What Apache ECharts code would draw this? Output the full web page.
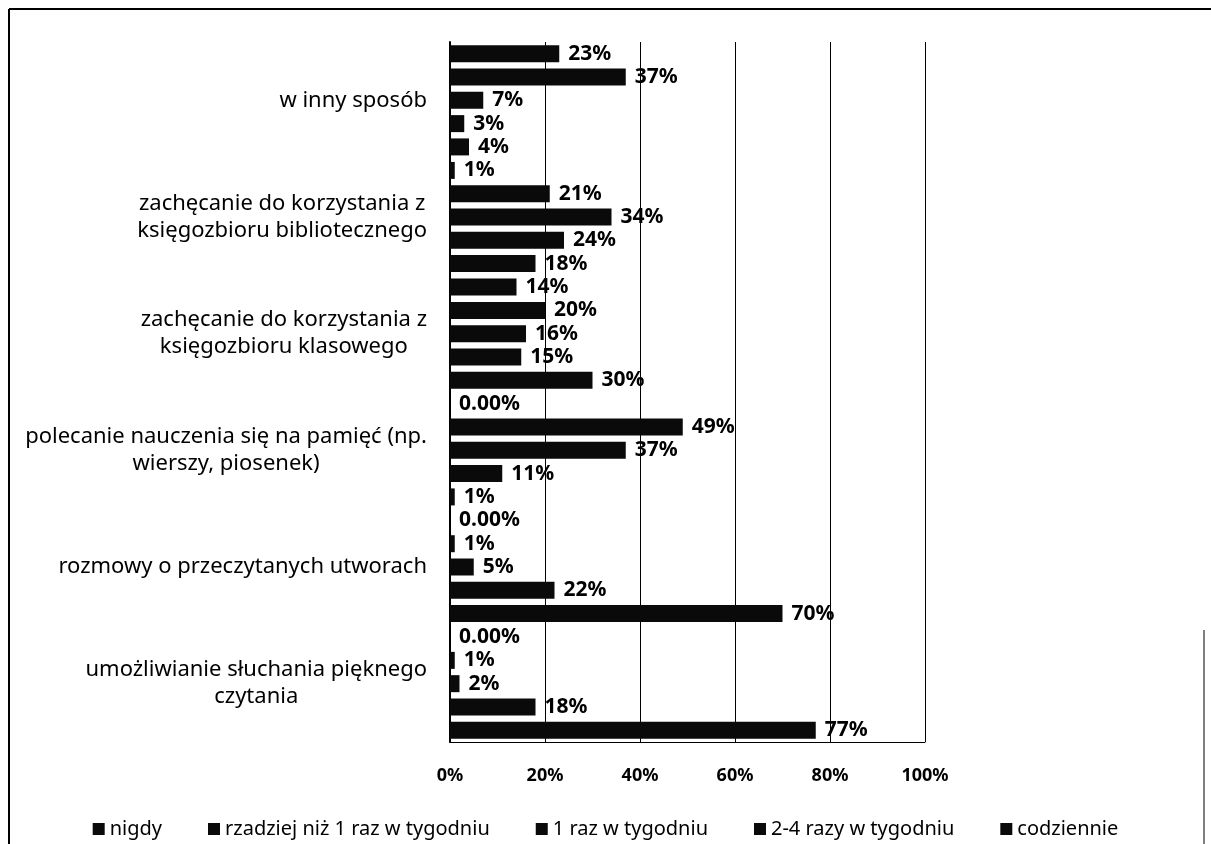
<!DOCTYPE html>
<html>
<head>
<meta charset="utf-8">
<script src="https://cdn.jsdelivr.net/npm/echarts@6/dist/echarts.min.js"></script>
<style>
  html, body { margin: 0; padding: 0; background: #fff; }
  #chart { width: 1211px; height: 844px; }
</style>
</head>
<body>
<div id="chart"></div>
<script>
// categories, top to bottom
const categories = [
  'w inny sposób',
  'zachęcanie do korzystania z\nksięgozbioru bibliotecznego',
  'zachęcanie do korzystania z\nksięgozbioru klasowego',
  'polecanie nauczenia się na pamięć (np.\nwierszy, piosenek)',
  'rozmowy o przeczytanych utworach',
  'umożliwianie słuchania pięknego\nczytania'
];
const seriesNames = [
  'nigdy',
  'rzadziej niż 1 raz w tygodniu',
  '1 raz w tygodniu',
  '2-4 razy w tygodniu',
  'codziennie'
];
// values in %
const nigdy = [23, 1, 14, 0, 0, 0];
const rzadziej = [37, 21, 20, 49, 1, 1];
const razWTygodniu = [7, 34, 16, 37, 5, 2];
const dwaCztery = [3, 24, 15, 11, 22, 18];
const codziennie = [4, 18, 30, 1, 70, 77];
const xTicks = [0, 20, 40, 60, 80, 100];

const font = "'Noto Sans', sans-serif";
const chart = echarts.init(document.getElementById('chart'));

function makeSeries(name, data) {
  return {
    name: name,
    type: 'bar',
    data: data,
    barWidth: 17,
    barGap: '37%',
    itemStyle: { color: '#0a0a0a' },
    label: {
      show: true,
      position: 'right',
      distance: 9,
      color: '#000',
      fontFamily: font,
      fontWeight: 'bold',
      fontSize: 21,
      formatter: (p) => (p.value === 0 ? '0.00%' : p.value + '%')
    }
  };
}

chart.setOption({
  animation: false,
  backgroundColor: '#fff',
  textStyle: { fontFamily: font, color: '#000' },
  grid: {
    left: 450,
    right: 286,
    top: 42,
    bottom: 102
  },
  legend: {
    data: seriesNames,
    left: 'center',
    top: 814,
    icon: 'rect',
    itemWidth: 12,
    itemHeight: 12,
    itemGap: 46,
    textStyle: { fontFamily: font, fontSize: 20, color: '#000' }
  },
  xAxis: {
    type: 'value',
    min: xTicks[0],
    max: xTicks[xTicks.length - 1],
    interval: 20,
    axisLine: { show: true, lineStyle: { color: '#000', width: 1 } },
    axisTick: { show: false },
    splitLine: { show: true, lineStyle: { color: '#000', width: 1 } },
    axisLabel: {
      formatter: '{value}%',
      margin: 25,
      color: '#000',
      fontFamily: font,
      fontWeight: 'bold',
      fontSize: 18
    }
  },
  yAxis: {
    type: 'category',
    inverse: true,
    data: categories,
    axisLine: { show: true, lineStyle: { color: '#000', width: 2 } },
    axisTick: { show: false },
    axisLabel: {
      margin: 23,
      align: 'right',
      formatter: (v) => v.split('\n').map((s) => '{c|' + s + '}').join('\n'),
      rich: {
        c: {
          align: 'center',
          fontFamily: font,
          fontSize: 22,
          lineHeight: 27,
          color: '#000'
        }
      }
    }
  },
  graphic: [
    { type: 'line', shape: { x1: 9, y1: 9, x2: 1211, y2: 9 }, style: { stroke: '#000', lineWidth: 2 } },
    { type: 'line', shape: { x1: 9, y1: 9, x2: 9, y2: 844 }, style: { stroke: '#000', lineWidth: 2 } },
    { type: 'line', shape: { x1: 1204, y1: 630, x2: 1204, y2: 844 }, style: { stroke: '#000', lineWidth: 1 } }
  ],
  series: [
    makeSeries(seriesNames[0], nigdy),
    makeSeries(seriesNames[1], rzadziej),
    makeSeries(seriesNames[2], razWTygodniu),
    makeSeries(seriesNames[3], dwaCztery),
    makeSeries(seriesNames[4], codziennie)
  ]
});

window.onresize = () => {
  chart.resize();
};
</script>
</body>
</html>
